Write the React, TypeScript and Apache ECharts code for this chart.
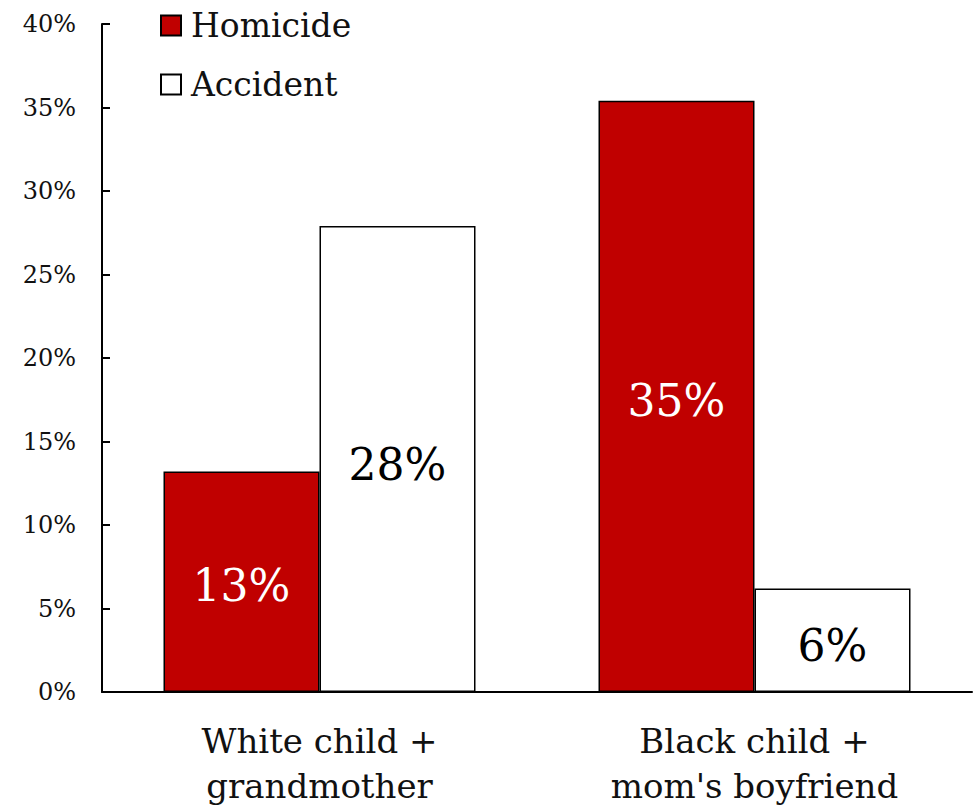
import React, { useEffect, useRef } from "react";
import * as echarts from "echarts";

const categories = ["White child +\ngrandmother", "Black child +\nmom's boyfriend"];
const homicide = [13.2, 35.4];
const accident = [27.9, 6.2];
const homicideLabels = ["13%", "35%"];
const accidentLabels = ["28%", "6%"];

const FONT = "DejaVu Serif";

export default function App() {
  const ref = useRef<HTMLDivElement>(null);
  useEffect(() => {
    const chart = echarts.init(ref.current!, null, { renderer: "svg" });
    chart.setOption({
      animation: false,
      backgroundColor: "#ffffff",
      textStyle: { fontFamily: FONT },
      grid: { left: 102, right: 5, top: 24, bottom: 116 },
      legend: {
        orient: "vertical",
        left: 155,
        top: 4,
        itemWidth: 20,
        itemHeight: 20,
        itemGap: 26,
        icon: "rect",
        textStyle: { fontFamily: FONT, fontSize: 33, color: "#111", padding: [0, 0, 0, 5] },
        data: ["Homicide", "Accident"],
      },
      xAxis: {
        type: "category",
        data: categories,
        axisLine: { lineStyle: { color: "#000", width: 2 } },
        axisTick: { show: false },
        axisLabel: {
          fontFamily: FONT,
          fontSize: 34,
          lineHeight: 45,
          color: "#111",
          margin: 26,
        },
      },
      yAxis: {
        type: "value",
        min: 0,
        max: 40,
        interval: 5,
        splitLine: { show: false },
        axisLine: { show: true, lineStyle: { color: "#000", width: 2 } },
        axisTick: { show: true, inside: true, length: 8, lineStyle: { color: "#000", width: 2 } },
        axisLabel: {
          formatter: "{value}%",
          fontFamily: FONT,
          fontSize: 24,
          color: "#111",
          margin: 26,
        },
      },
      series: [
        {
          name: "Homicide",
          type: "bar",
          data: homicide,
          barWidth: 156,
          barGap: "0%",
          itemStyle: { color: "#c00000", borderColor: "#000", borderWidth: 1.5 },
          label: {
            show: true,
            position: "inside",
            formatter: (p: any) => homicideLabels[p.dataIndex],
            fontFamily: FONT,
            fontSize: 44,
            color: "#ffffff",
            offset: [0, 4],
          },
        },
        {
          name: "Accident",
          type: "bar",
          data: accident,
          barWidth: 156,
          barGap: "0%",
          itemStyle: { color: "#ffffff", borderColor: "#000", borderWidth: 1.5 },
          label: {
            show: true,
            position: "inside",
            formatter: (p: any) => accidentLabels[p.dataIndex],
            fontFamily: FONT,
            fontSize: 44,
            color: "#000000",
            offset: [0, 5],
          },
        },
      ],
    });
    return () => chart.dispose();
  }, []);
  return (
    <div
      ref={ref}
      style={{ position: "fixed", left: 0, top: 0, width: 977, height: 808, background: "#fff" }}
    />
  );
}
